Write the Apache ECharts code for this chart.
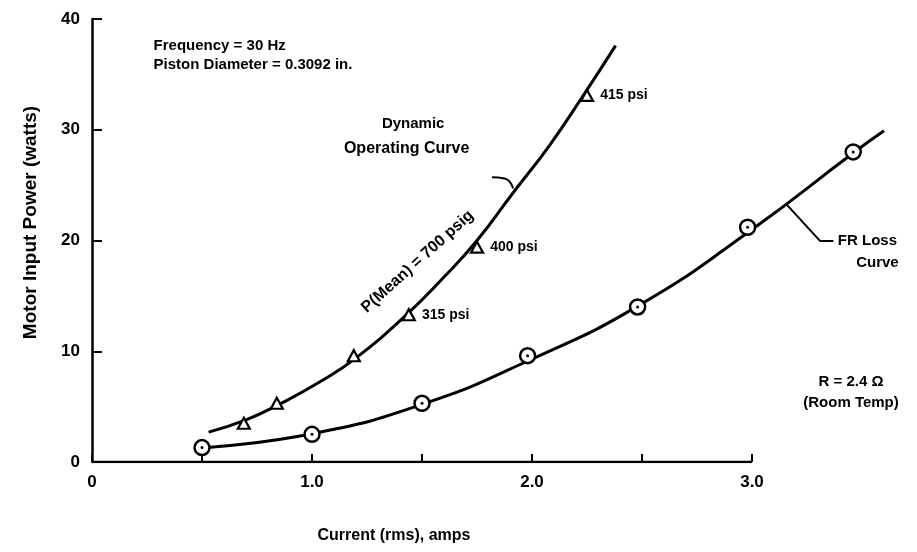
<!DOCTYPE html>
<html><head><meta charset="utf-8">
<script src="https://cdn.jsdelivr.net/npm/echarts@6/dist/echarts.min.js"></script>
<style>html,body{margin:0;padding:0;background:#fff}#c{width:917px;height:552px}</style>
</head><body><div id="c"></div>
<script>
// ---- data ----
const xTickValues = [0, 0.5, 1, 1.5, 2, 2.5, 3];
const xLabelValues = [0, 1, 2, 3];
const xTickLabels = ['0', '1.0', '2.0', '3.0'];
const xAxisSpan = [[0, 0], [3, 0]];          // drawn x axis runs 0 .. 3.0
const yTicks = [0, 10, 20, 30, 40];
// Dynamic operating curve (smooth line)
const dynCurve = [[0.53,2.7],[0.7,3.8],[0.85,5.2],[1.05,7.4],[1.2,9.4],[1.43,13.3],[1.6,16.7],[1.75,20.0],[1.91,24.2],[2.08,28.6],[2.23,33.0],[2.38,37.6]];
// Measured points (triangles)
const dynPoints = [[0.69,3.5],[0.84,5.3],[1.19,9.6],[1.44,13.3],[1.75,19.4],[2.25,33.1]];
const dynPointLabels = ['', '', '', '315 psi', '400 psi', '415 psi'];
// I^2R loss curve (traced line) and its marked points
const frCurve = [[0.52,1.3],[1.0,2.55],[1.5,5.2],[2.0,9.3],[2.5,14.3],[3.0,21.0],[3.46,27.9],[3.6,29.9]];
const frPoints = [[0.5,1.3],[1.0,2.5],[1.5,5.3],[1.98,9.6],[2.48,14.0],[2.98,21.2],[3.46,28.0]];
// callout leader lines
const dynLeader = [[1.818,25.7],[1.875,25.6],[1.914,24.7]];
const frLeader = [[3.16,23.2],[3.31,19.95],[3.37,19.95]];
// free text notes (data coordinates)
const notes = [
  {text:'Frequency = 30 Hz', at:[0.28,37.6], align:'left', size:15},
  {text:'Piston Diameter = 0.3092 in.', at:[0.28,35.9], align:'left', size:15},
  {text:'Dynamic', at:[1.46,30.5], align:'center', size:15},
  {text:'Operating Curve', at:[1.43,28.3], align:'center', size:16},
  {text:'P(Mean) = 700 psig', at:[1.48,18.1], align:'center', size:16, rotate:42},
  {text:'FR Loss', at:[3.39,20.0], align:'left', size:15},
  {text:'Curve', at:[3.57,18.0], align:'center', size:15},
  {text:'R = 2.4 \u03A9', at:[3.45,7.2], align:'center', size:15},
  {text:'(Room Temp)', at:[3.45,5.3], align:'center', size:15}
];
const xName = 'Current (rms), amps';
const yName = 'Motor Input Power (watts)';

const FONT = '"Liberation Sans", Arial, sans-serif';
const chart = echarts.init(document.getElementById('c'), null, {renderer:'canvas'});
const lineStyle = {color:'#000', width:3};
chart.setOption({
  animation:false,
  backgroundColor:'#fff',
  grid:{left:92, right:33, top:19, bottom:90, containLabel:false},
  xAxis:{type:'value', min:0, max:3.6, interval:0.5,
    axisLine:{show:false},
    axisTick:{show:true, inside:true, length:8, customValues:xTickValues, lineStyle:{color:'#000', width:2}},
    axisLabel:{margin:12, color:'#000', fontSize:17, fontWeight:'bold', fontFamily:FONT,
      customValues:xLabelValues,
      formatter:v => { const i = xLabelValues.indexOf(v); return i >= 0 ? xTickLabels[i] : ''; }},
    splitLine:{show:false},
    name:xName, nameLocation:'middle', nameGap:66,
    nameTextStyle:{color:'#000', fontSize:16, fontWeight:'bold', fontFamily:FONT, padding:[0,188,0,0]}
  },
  yAxis:{type:'value', min:yTicks[0], max:yTicks[yTicks.length-1], interval:10,
    axisLine:{show:true, lineStyle:{color:'#000', width:2.5}},
    axisTick:{show:true, inside:true, length:10, lineStyle:{color:'#000', width:2}},
    axisLabel:{margin:12, color:'#000', fontSize:17, fontWeight:'bold', fontFamily:FONT},
    splitLine:{show:false},
    name:yName, nameLocation:'middle', nameGap:52,
    nameTextStyle:{color:'#000', fontSize:19, fontWeight:'bold', fontFamily:FONT, padding:[0,0,0,36]}
  },
  series:[
    {type:'line', data:xAxisSpan, symbol:'none', z:1, lineStyle:{color:'#000', width:2.5}, silent:true},
    {type:'line', data:dynCurve, smooth:0.5, symbol:'none', lineStyle, z:2},
    {type:'line', data:frCurve, smooth:0.5, symbol:'none', lineStyle, z:2},
    {type:'scatter', data:dynPoints, symbol:'triangle', symbolSize:[12,11], z:3,
      itemStyle:{color:'#fff', borderColor:'#000', borderWidth:2.2, opacity:1},
      label:{show:true, position:'right', distance:6, color:'#000', opacity:1, fontSize:14, fontWeight:'bold', fontFamily:FONT,
        formatter:p => dynPointLabels[p.dataIndex]}},
    {type:'scatter', data:frPoints, symbol:'circle', symbolSize:15, z:3,
      itemStyle:{color:'#fff', borderColor:'#000', borderWidth:2.5, opacity:1}},
    {type:'scatter', data:frPoints, symbol:'circle', symbolSize:3, z:4,
      itemStyle:{color:'#000', opacity:1}},
    {type:'line', data:dynLeader, smooth:0.6, symbol:'none', z:2,
      lineStyle:{color:'#000', width:2}},
    {type:'line', data:frLeader, symbol:'none', z:2,
      lineStyle:{color:'#000', width:2}}
  ]
});
const g = notes.map(n => {
  const p = chart.convertToPixel({gridIndex:0}, n.at);
  return {type:'text', x:p[0], y:p[1], rotation:(n.rotate||0)*Math.PI/180, z:10,
    style:{text:n.text, fill:'#000', font:'bold ' + n.size + 'px ' + FONT, textAlign:n.align, textVerticalAlign:'middle'}};
});
chart.setOption({graphic:g});
</script></body></html>
